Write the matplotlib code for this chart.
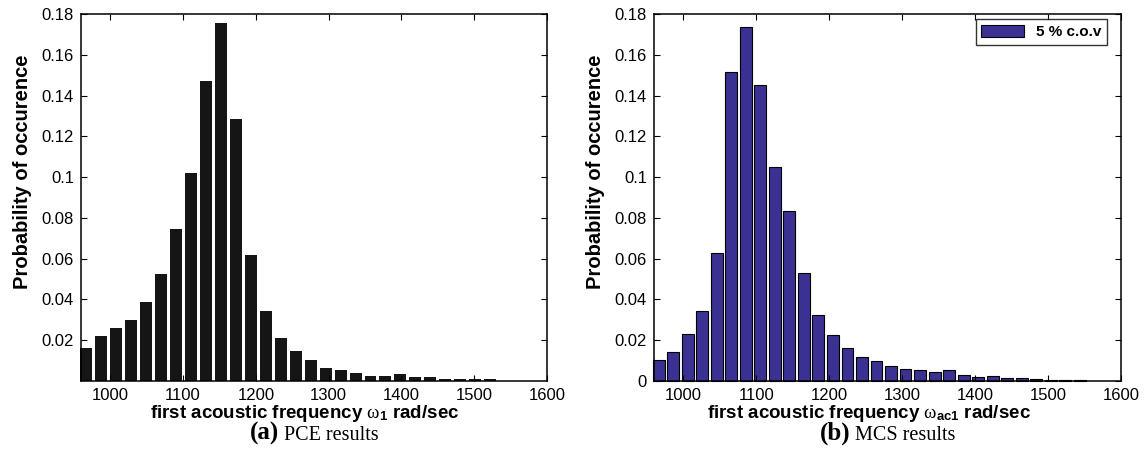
import numpy as np
import matplotlib
matplotlib.use("Agg")
import matplotlib.pyplot as plt
from matplotlib.patches import Patch
from matplotlib.ticker import FuncFormatter

plt.rcParams['font.family'] = ['Liberation Sans', 'DejaVu Sans']
plt.rcParams['mathtext.fontset'] = 'custom'
plt.rcParams['mathtext.rm'] = 'Liberation Serif'
plt.rcParams['mathtext.it'] = 'Liberation Serif:italic'
plt.rcParams['mathtext.bf'] = 'Liberation Sans:bold'

# PCE histogram (left), bin centres in rad/sec
pce_first, pce_step = 967.0, 20.55
pce_prob = [0.0164, 0.0223, 0.0262, 0.0301, 0.0389, 0.0525, 0.0745, 0.1019,
            0.1473, 0.1756, 0.1287, 0.0618, 0.0345, 0.0213, 0.0148, 0.0103,
            0.0063, 0.0053, 0.0038, 0.0023, 0.0023, 0.0033, 0.0018, 0.0018,
            0.0008, 0.0008, 0.0008, 0.0008]

# MCS histogram (right)
mcs_first, mcs_step = 966.4, 19.9
mcs_prob = [0.0103, 0.0144, 0.0232, 0.0343, 0.0630, 0.1517, 0.1736, 0.1450,
            0.1048, 0.0832, 0.0528, 0.0322, 0.0224, 0.0160, 0.0119, 0.0100,
            0.0075, 0.0060, 0.0052, 0.0042, 0.0055, 0.0031, 0.0020, 0.0023,
            0.0016, 0.0016, 0.0008, 0.0005, 0.0003, 0.0003]

xticks = [1000, 1100, 1200, 1300, 1400, 1500, 1600]

pce_x = pce_first + pce_step * np.arange(len(pce_prob))
mcs_x = mcs_first + mcs_step * np.arange(len(mcs_prob))

fig = plt.figure(figsize=(11.48, 4.73), dpi=100)
ax1 = fig.add_axes([0.0706, 0.1945, 0.406, 0.776])
ax2 = fig.add_axes([0.5697, 0.1945, 0.4068, 0.776])

ax1.bar(pce_x, pce_prob, width=0.8 * pce_step, color='#151515', edgecolor='none', clip_on=False)
ax2.bar(mcs_x, mcs_prob, width=0.82 * mcs_step, color='#3b3192', edgecolor='black',
        linewidth=0.8, clip_on=False)

fmt = FuncFormatter(lambda v, p: '%g' % round(v, 3))
for ax in (ax1, ax2):
    ax.set_xlim(960, 1600)
    ax.set_ylim(0, 0.18)
    ax.set_xticks(xticks)
    ax.yaxis.set_major_formatter(fmt)
    ax.tick_params(direction='in', length=4, width=0.8, top=True, right=True,
                   labelsize=12, pad=5)
    for s in ax.spines.values():
        s.set_linewidth(1.1)
    ax.set_ylabel('Probability of occurence', fontsize=14.5, fontweight='bold')
    ax.yaxis.set_label_coords(-0.105, 0.57)

ax1.set_yticks(np.arange(0.02, 0.181, 0.02))
ax2.set_yticks(np.arange(0, 0.181, 0.02))

ax1.set_xlabel(r'first acoustic frequency $\mathrm{\omega}_{\mathbf{1}}$ rad/sec',
               fontsize=13.5, fontweight='bold')
ax1.xaxis.set_label_coords(0.48, -0.06)
ax2.set_xlabel(r'first acoustic frequency $\mathrm{\omega}_{\mathbf{ac1}}$ rad/sec',
               fontsize=13.5, fontweight='bold')
ax2.xaxis.set_label_coords(0.46, -0.06)

leg = ax2.legend(handles=[Patch(facecolor='#3b3192', edgecolor='black', linewidth=0.8)],
                 labels=['5 % c.o.v'], loc='upper right', fancybox=False,
                 bbox_to_anchor=(0.97, 0.985),
                 prop={'weight': 'bold', 'size': 11}, borderaxespad=0.0,
                 handlelength=2.8, handleheight=0.9, borderpad=0.35)
leg.get_frame().set_edgecolor('black')
leg.get_frame().set_linewidth(1.0)

# sub-figure captions: bold "(a)" followed by plain text, centred under each axes
fig.canvas.draw()
r = fig.canvas.get_renderer()
for ax, tag, txt in ((ax1, '(a)', 'PCE results'), (ax2, '(b)', 'MCS results')):
    pos = ax.get_position()
    cx = (pos.x0 + pos.x1) / 2 * 1148
    t1 = fig.text(0, 0, tag, fontsize=18, fontweight='bold', family='Liberation Serif')
    t2 = fig.text(0, 0, ' ' + txt, fontsize=14.5, family='Liberation Serif')
    w1 = t1.get_window_extent(r).width
    w2 = t2.get_window_extent(r).width
    x0 = cx - (w1 + w2) / 2
    y = 1 - 440 / 473
    t1.set_position((x0 / 1148, y))
    t2.set_position(((x0 + w1) / 1148, y))

fig.savefig('out.png', dpi=100)
